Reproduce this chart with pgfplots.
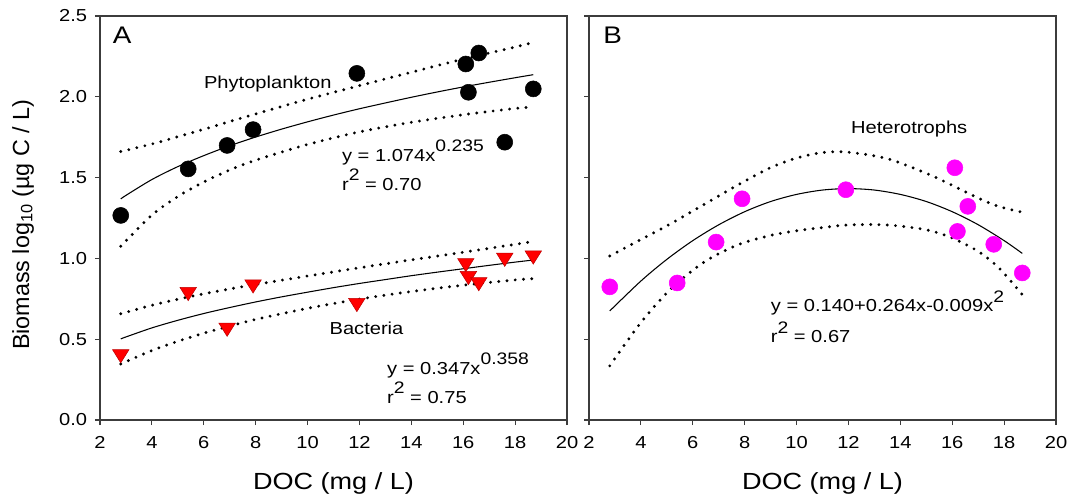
\documentclass[border=0pt]{standalone}
\usepackage{fontspec}
\setmainfont{Liberation Sans}[FakeStretch=1.16]
\newfontfamily\ylabfont{Liberation Sans}
\usepackage{pgfplots}
\pgfplotsset{compat=1.18}

\definecolor{magB}{RGB}{255,0,255}
\definecolor{framec}{RGB}{60,60,60}
\newcommand{\sups}[1]{\raisebox{0.55em}{\fontsize{12.5}{14}\selectfont #1}}

\tikzset{
 ann/.style={anchor=base west, inner sep=0pt, font=\fontsize{13}{15}\selectfont},
 letter/.style={anchor=base west, inner sep=0pt, font=\fontsize{18}{20}\selectfont},
}
\pgfplotsset{
 panel/.style={
  scale only axis, width=350.25pt, height=303pt,
  xmin=2, xmax=20, ymin=0, ymax=2.5,
  xtick={2,4,6,8,10,12,14,16,18,20},
  ytick={0,0.5,1,1.5,2,2.5},
  tick align=outside, tick pos=left,
  major tick length=3.75pt,
  axis line style={framec, line width=0.9pt},
  tick style={framec, line width=0.9pt},
  /pgf/number format/assume math mode=true,
  tick label style={font=\fontsize{13}{15}\selectfont},
  xticklabel shift=5pt,
  yticklabel shift=2.4pt,
  y tick label style={/pgf/number format/.cd, fixed, fixed zerofill, precision=1, /tikz/.cd},
  xlabel={DOC (mg / L)},
  every axis x label/.style={at={(axis description cs:0.5,-0.1708)}, anchor=base, font=\fontsize{17.5}{20}\selectfont},
  clip=false,
 },
 fitline/.style={black, line width=0.8pt, smooth, no markers},
 band/.style={black, line width=2.4pt, line cap=round, dash pattern=on 0pt off 6.2pt, smooth, no markers},
}

\begin{document}
\begin{tikzpicture}
\begin{axis}[panel, name=A, at={(0,0)}, anchor=south west,
  ylabel={\ylabfont Biomass log\textsubscript{10} (µg C / L)},
  every axis y label/.style={at={(axis description cs:-0.152,0.483)}, rotate=90, anchor=base, font=\fontsize{17.5}{20}\selectfont},
]
% Phytoplankton
\addplot[band] coordinates {(2.8,1.661)(4,1.708)(5,1.753)(6,1.799)(7,1.847)(8,1.894)(10,1.985)(12,2.069)(14,2.152)(16,2.233)(18,2.308)(18.7,2.337)};
\addplot[band] coordinates {(2.8,1.075)(4,1.268)(5,1.383)(6,1.473)(7,1.547)(8,1.608)(10,1.705)(12,1.783)(14,1.842)(16,1.889)(18,1.928)(18.7,1.937)};
\addplot[fitline] coordinates {(2.8,1.368)(3,1.390)(4,1.488)(5,1.568)(6,1.636)(7,1.697)(8,1.751)(9,1.800)(10,1.845)(11,1.887)(12,1.926)(13,1.962)(14,1.997)(15,2.030)(16,2.061)(17,2.090)(18,2.118)(18.7,2.137)};
% Bacteria
\addplot[band] coordinates {(2.8,0.657)(4,0.710)(5,0.747)(6,0.781)(7,0.811)(8,0.8385)(10,0.891)(12,0.942)(14,0.991)(16,1.038)(18,1.087)(18.7,1.105)};
\addplot[band] coordinates {(2.8,0.347)(4,0.430)(5,0.487)(6,0.537)(7,0.581)(8,0.6225)(10,0.691)(12,0.748)(14,0.795)(16,0.834)(18,0.867)(18.7,0.875)};
\addplot[fitline] coordinates {(2.8,0.502)(3,0.514)(4,0.570)(5,0.617)(6,0.659)(7,0.696)(8,0.7305)(9,0.762)(10,0.791)(11,0.819)(12,0.845)(13,0.869)(14,0.893)(15,0.915)(16,0.936)(17,0.957)(18,0.977)(18.7,0.990)};
% markers
\addplot[only marks, mark=*, mark size=6pt, mark options={fill=black, draw=black}] coordinates {(2.8,1.266)(5.4,1.554)(6.9,1.699)(7.9,1.797)(11.9,2.145)(16.1,2.203)(16.6,2.271)(16.2,2.028)(17.6,1.719)(18.7,2.049)};
\addplot[only marks, mark=triangle*, mark size=6.6pt, mark options={rotate=180, xscale=1.08, fill=red, draw=red!75!black, line width=0.4pt}] coordinates {(2.8,0.408)(5.4,0.793)(6.9,0.572)(7.9,0.840)(11.9,0.725)(16.1,0.972)(16.2,0.892)(16.6,0.854)(17.6,1.005)(18.7,1.019)};
\node[letter] at (axis description cs:0.027,0.931) {A};
\node[ann] at (axis cs:6.0,2.051) {Phytoplankton};
\node[ann] at (axis cs:11.32,1.602) {y = 1.074x\sups{0.235}};
\node[ann] at (axis cs:11.32,1.42) {r\sups{2} = 0.70};
\node[ann] at (axis cs:10.84,0.531) {Bacteria};
\node[ann] at (axis cs:13.06,0.284) {y = 0.347x\sups{0.358}};
\node[ann] at (axis cs:13.06,0.103) {r\sups{2} = 0.75};
\end{axis}

\begin{axis}[panel, name=B, at={(366.75pt,0)}, anchor=south west, yticklabel=\empty]
\addplot[band] coordinates {(2.8,1.015)(4,1.117)(5.2,1.219)(6.5,1.340)(7.8,1.460)(9,1.562)(10,1.621)(11,1.655)(12,1.657)(13.5,1.617)(15,1.527)(16,1.452)(17,1.3735)(17.8,1.321)(18.7,1.286)};
\addplot[band] coordinates {(2.8,0.335)(4,0.603)(5.2,0.819)(6.5,0.984)(7.8,1.088)(9,1.142)(10,1.171)(11,1.191)(12,1.207)(13.5,1.207)(15,1.177)(16,1.126)(17,1.0435)(17.8,0.941)(18.7,0.776)};
\addplot[fitline] coordinates {(2.8,0.675)(4,0.860)(5,0.994)(6,1.110)(7,1.208)(8,1.289)(9,1.352)(10,1.396)(11,1.423)(12,1.432)(13,1.423)(14,1.396)(15,1.352)(16,1.289)(17,1.2085)(18,1.110)(18.7,1.031)};
\addplot[only marks, mark=*, mark size=6pt, mark options={fill=magB, draw=magB}] coordinates {(2.8,0.824)(5.4,0.848)(6.9,1.101)(7.9,1.369)(11.9,1.425)(16.1,1.561)(16.2,1.167)(16.6,1.322)(17.6,1.087)(18.7,0.910)};
\node[letter] at (axis description cs:0.030,0.931) {B};
\node[ann] at (axis cs:12.09,1.771) {Heterotrophs};
\node[ann] at (axis cs:9.0,0.669) {y = 0.140+0.264x-0.009x\sups{2}};
\node[ann] at (axis cs:9.0,0.4775) {r\sups{2} = 0.67};
\end{axis}
\pgfresetboundingbox
\path[use as bounding box] (-75pt,-57.75pt) rectangle (727.5pt,315pt);
\end{tikzpicture}
\end{document}
